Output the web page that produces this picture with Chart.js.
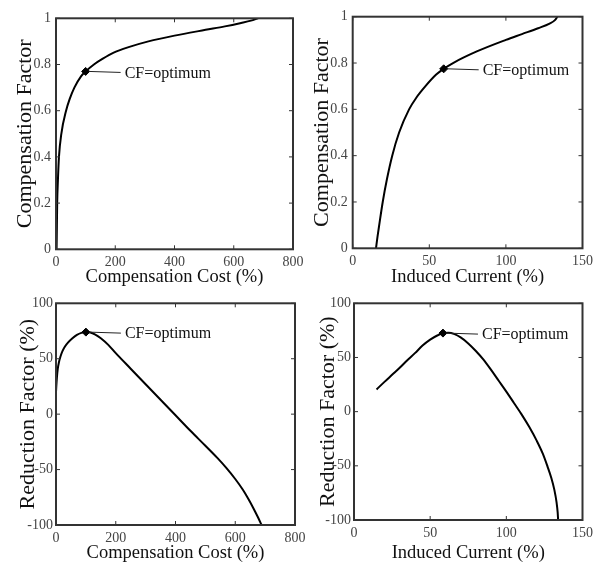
<!DOCTYPE html>
<html>
<head>
<meta charset="utf-8">
<title>Compensation factor</title>
<script src="https://cdn.jsdelivr.net/npm/chart.js@4.4.1/dist/chart.umd.min.js"></script>
<style>
  html, body { margin: 0; padding: 0; background: #fff; }
  #wrap { position: relative; width: 598px; height: 563px; }
  #wrap canvas { position: absolute; left: 0; top: 0; }
</style>
</head>
<body>
<div id="wrap">
  <canvas id="chart-cost-cf" width="598" height="563"></canvas>
  <canvas id="chart-current-cf" width="598" height="563"></canvas>
  <canvas id="chart-cost-rf" width="598" height="563"></canvas>
  <canvas id="chart-current-rf" width="598" height="563"></canvas>
</div>
<script>
// values
const costCfCost = [2, 3, 4, 6.5, 10, 18, 34, 46, 62, 85, 100, 128, 158, 193, 245, 312, 400, 505, 570, 625, 658, 682];
const costCfFactor = [0, 0.1, 0.2, 0.3, 0.4, 0.5, 0.6, 0.65, 0.7, 0.75, 0.77, 0.8, 0.825, 0.85, 0.875, 0.9, 0.925, 0.95, 0.965, 0.98, 0.99, 1.0];

const currentCfCurrent = [15.2, 16.2, 17.3, 19.6, 22.4, 25.8, 30.3, 36.8, 41.5, 47.5, 54.5, 59.4, 65.5, 81, 100, 110.5, 121, 128.5, 132, 133.6];
const currentCfFactor = [0, 0.05, 0.1, 0.2, 0.3, 0.4, 0.5, 0.6, 0.65, 0.7, 0.75, 0.775, 0.8, 0.85, 0.9, 0.925, 0.95, 0.97, 0.985, 1.0];

const costRfCost = [0, 1, 3, 6, 10, 15, 22, 30, 40, 55, 70, 85, 100, 115, 130, 150, 175, 200, 250, 300, 350, 400, 450, 500, 540, 570, 600, 625, 645, 662, 676, 688];
const costRfFactor = [20, 25, 33, 41, 47, 52, 57, 61, 64.5, 68.5, 71.5, 73.3, 74, 73.6, 72, 68.5, 62.5, 55, 41, 27, 13, -1, -15, -28.5, -39.5, -48.5, -58.5, -68, -77, -85.5, -93, -100];

const currentRfCurrent = [14.8, 20, 25, 30, 35, 40, 45, 50, 55, 58.4, 62, 66, 70, 75, 80, 85, 90, 95, 100, 105, 110, 115, 120, 124, 127, 129.5, 131.5, 133, 133.7, 134];
const currentRfFactor = [20.5, 27.5, 34, 40.5, 47.5, 54, 61, 66.5, 70.5, 72.5, 72.8, 71.5, 68.5, 63, 56, 48, 38.5, 28.5, 18.5, 8, -2.5, -14, -27, -39, -50.5, -61, -72, -84, -93, -100];

const optimumCost = [100, 0.77];
const optimumCurrent = [59.4, 0.775];
const optimumCostRf = [100, 74];
const optimumCurrentRf = [58.4, 72.5];

const cfTicks = [0, 0.2, 0.4, 0.6, 0.8, 1];
const rfTicks = [-100, -50, 0, 50, 100];
const costTicks = [0, 200, 400, 600, 800];
const currentTicks = [0, 50, 100, 150];

const annotationText = 'CF=optimum';
const FONT = '"Liberation Serif", "Times New Roman", serif';
const X_TITLE = 18.5, Y_TITLE = 22;

const toPoints = (xs, ys) => xs.map((x, i) => ({ x: x, y: ys[i] }));

// box around plot area + matlab style inward ticks on all 4 sides
const framePlugin = {
  id: 'frame',
  afterDraw(chart) {
    const { ctx, chartArea: a, scales } = chart;
    ctx.save();
    ctx.strokeStyle = '#333';
    ctx.lineWidth = 1;
    scales.x.ticks.forEach(t => {
      const px = scales.x.getPixelForValue(t.value);
      ctx.beginPath();
      ctx.moveTo(px, a.bottom); ctx.lineTo(px, a.bottom - 4);
      ctx.moveTo(px, a.top); ctx.lineTo(px, a.top + 4);
      ctx.stroke();
    });
    scales.y.ticks.forEach(t => {
      const py = scales.y.getPixelForValue(t.value);
      ctx.beginPath();
      ctx.moveTo(a.left, py); ctx.lineTo(a.left + 4, py);
      ctx.moveTo(a.right, py); ctx.lineTo(a.right - 4, py);
      ctx.stroke();
    });
    ctx.lineWidth = 2;
    ctx.strokeRect(a.left, a.top, a.right - a.left, a.bottom - a.top);
    ctx.restore();
  }
};

// "CF=optimum" label with a line pointing back to the marker
const annotePlugin = {
  id: 'annote',
  afterDatasetsDraw(chart) {
    const { ctx, scales } = chart;
    const opt = chart.options.plugins.annote;
    const px = scales.x.getPixelForValue(opt.at[0]);
    const py = scales.y.getPixelForValue(opt.at[1]);
    ctx.save();
    ctx.strokeStyle = '#222';
    ctx.lineWidth = 1;
    ctx.beginPath();
    ctx.moveTo(px + 3, py);
    ctx.lineTo(px + 35, py + 1);
    ctx.stroke();
    ctx.fillStyle = '#111';
    ctx.font = '16px ' + FONT;
    ctx.textBaseline = 'middle';
    ctx.fillText(annotationText, px + 39, py + 2);
    ctx.restore();
  }
};

const makeChart = (id, spec) => {
  const box = spec.box;
  const yHalf = Y_TITLE * 1.2 / 2, xHalf = X_TITLE * 1.2 / 2;
  const config = {
    type: 'scatter',
    data: {
      datasets: [
        {
          data: [{ x: spec.optimum[0], y: spec.optimum[1] }],
          pointStyle: 'rectRot',
          pointRadius: 4,
          backgroundColor: '#000',
          borderColor: '#000',
          order: 1
        },
        {
          data: spec.points,
          showLine: true,
          borderColor: '#000',
          borderWidth: 2,
          pointRadius: 0,
          cubicInterpolationMode: 'monotone',
          order: 2
        }
      ]
    },
    options: {
      responsive: false,
      animation: false,
      events: [],
      layout: {
        padding: {
          left: box.titleY - yHalf,
          top: box.top,
          right: 598 - box.right,
          bottom: 563 - box.titleX - xHalf
        }
      },
      plugins: {
        legend: { display: false },
        tooltip: { enabled: false },
        annote: { at: spec.optimum }
      },
      scales: {
        x: {
          type: 'linear',
          min: spec.xTicks[0],
          max: spec.xTicks[spec.xTicks.length - 1],
          afterBuildTicks: s => { s.ticks = spec.xTicks.map(v => ({ value: v })); },
          afterFit: s => { s.height = box.titleX + xHalf - box.bottom; },
          ticks: { font: { family: FONT, size: 14 }, color: '#444', padding: 5, maxRotation: 0, autoSkip: false,
                   callback: v => String(+v.toFixed(2)) },
          grid: { display: false, drawTicks: false },
          border: { display: false },
          title: { display: true, text: spec.xTitle, color: '#111', padding: 0, font: { family: FONT, size: X_TITLE, lineHeight: 1.2 } }
        },
        y: {
          type: 'linear',
          min: spec.yTicks[0],
          max: spec.yTicks[spec.yTicks.length - 1],
          afterBuildTicks: s => { s.ticks = spec.yTicks.map(v => ({ value: v })); },
          afterFit: s => { s.width = box.left - (box.titleY - yHalf); },
          ticks: { font: { family: FONT, size: 14 }, color: '#444', padding: spec.yPad, autoSkip: false,
                   callback: v => String(+v.toFixed(2)) },
          grid: { display: false, drawTicks: false },
          border: { display: false },
          title: { display: true, text: spec.yTitle, color: '#111', padding: 0, font: { family: FONT, size: Y_TITLE, lineHeight: 1.2 } }
        }
      }
    },
    plugins: [framePlugin, annotePlugin]
  };
  return new Chart(document.getElementById(id), config);
};

window.addEventListener('DOMContentLoaded', () => {
  makeChart('chart-cost-cf', {
    points: toPoints(costCfCost, costCfFactor),
    optimum: optimumCost,
    xTicks: costTicks, yTicks: cfTicks, yPad: 5,
    xTitle: 'Compensation Cost (%)', yTitle: 'Compensation Factor',
    box: { left: 56, top: 18.3, right: 293, bottom: 249.3, titleY: 25, titleX: 277 }
  });
  makeChart('chart-current-cf', {
    points: toPoints(currentCfCurrent, currentCfFactor),
    optimum: optimumCurrent,
    xTicks: currentTicks, yTicks: cfTicks, yPad: 5,
    xTitle: 'Induced Current (%)', yTitle: 'Compensation Factor',
    box: { left: 352.7, top: 16.7, right: 585, bottom: 248.3, titleY: 322, titleX: 277 }
  });
  makeChart('chart-cost-rf', {
    points: toPoints(costRfCost, costRfFactor),
    optimum: optimumCostRf,
    xTicks: costTicks, yTicks: rfTicks, yPad: 3,
    xTitle: 'Compensation Cost (%)', yTitle: 'Reduction Factor (%)',
    box: { left: 56, top: 303.3, right: 295, bottom: 525, titleY: 28, titleX: 553 }
  });
  makeChart('chart-current-rf', {
    points: toPoints(currentRfCurrent, currentRfFactor),
    optimum: optimumCurrentRf,
    xTicks: currentTicks, yTicks: rfTicks, yPad: 3,
    xTitle: 'Induced Current (%)', yTitle: 'Reduction Factor (%)',
    box: { left: 354, top: 303.3, right: 586.7, bottom: 520, titleY: 328, titleX: 553 }
  });
});
</script>
</body>
</html>
